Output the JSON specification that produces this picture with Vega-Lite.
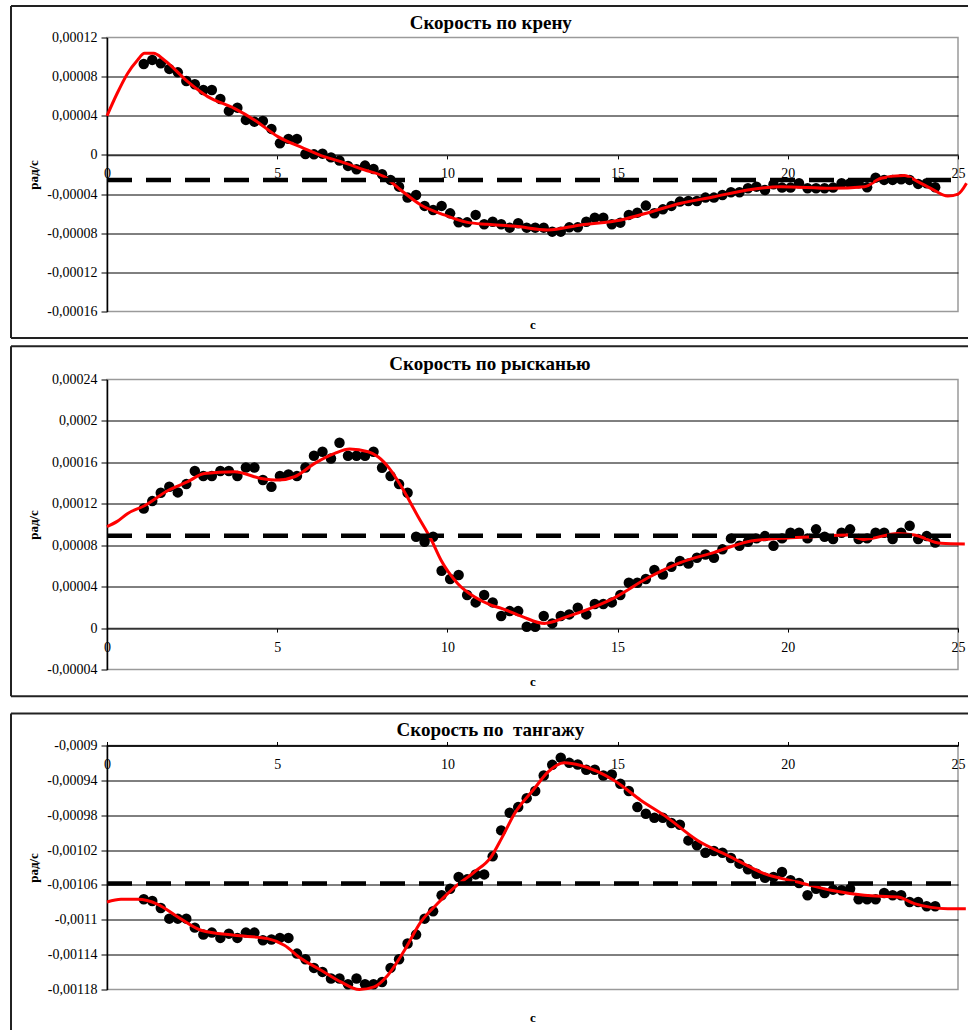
{
  "$schema": "https://vega.github.io/schema/vega-lite/v6.json",
  "autosize": {"type": "pad"},
  "padding": {"left": 8, "top": 2.5, "right": 0, "bottom": 0},
  "background": "white",
  "spacing": 1,
  "config": {
    "font": "Liberation Serif",
    "locale": {"number": {"decimal": ",", "thousands": " ", "grouping": [3], "currency": ["", ""], "minus": "-"}},
    "view": {"stroke": "#9a9a9a", "strokeWidth": 1.5},
    "title": {"font": "Liberation Serif", "fontSize": 19, "fontWeight": "bold", "color": "#000", "anchor": "middle", "frame": "bounds", "baseline": "alphabetic"},
    "axis": {"labelFont": "Liberation Serif", "labelFontSize": 14, "labelColor": "#000", "labelOverlap": false, "titleFont": "Liberation Serif", "titleFontSize": 13, "titleFontWeight": "bold", "titleColor": "#000", "tickColor": "#000", "domainColor": "#000", "domainWidth": 1.5, "gridColor": "#000", "gridWidth": 1}
  },
  "datasets": {
    "p1_pts": [
      {"t":1.08,"v":9.30e-5},{"t":1.33,"v":9.71e-5},{"t":1.58,"v":9.36e-5},{"t":1.83,"v":8.79e-5},{"t":2.08,"v":8.44e-5},{"t":2.33,"v":7.56e-5},{"t":2.58,"v":7.22e-5},{"t":2.83,"v":6.64e-5},{"t":3.08,"v":6.64e-5},{"t":3.33,"v":5.72e-5},
      {"t":3.58,"v":4.50e-5},{"t":3.83,"v":4.83e-5},{"t":4.08,"v":3.58e-5},{"t":4.33,"v":3.40e-5},{"t":4.58,"v":3.47e-5},{"t":4.83,"v":2.66e-5},{"t":5.08,"v":1.19e-5},{"t":5.33,"v":1.64e-5},{"t":5.58,"v":1.64e-5},{"t":5.83,"v":0.10e-5},
      {"t":6.08,"v":0.06e-5},{"t":6.33,"v":0.13e-5},{"t":6.58,"v":-0.25e-5},{"t":6.83,"v":-0.58e-5},{"t":7.08,"v":-1.12e-5},{"t":7.33,"v":-1.47e-5},{"t":7.58,"v":-1.09e-5},{"t":7.83,"v":-1.43e-5},{"t":8.08,"v":-1.98e-5},{"t":8.33,"v":-2.55e-5},
      {"t":8.58,"v":-3.24e-5},{"t":8.83,"v":-4.36e-5},{"t":9.08,"v":-4.09e-5},{"t":9.33,"v":-5.21e-5},{"t":9.58,"v":-5.62e-5},{"t":9.83,"v":-5.21e-5},{"t":10.08,"v":-5.97e-5},{"t":10.33,"v":-6.89e-5},{"t":10.58,"v":-6.89e-5},{"t":10.83,"v":-6.13e-5},
      {"t":11.08,"v":-7.09e-5},{"t":11.33,"v":-6.82e-5},{"t":11.58,"v":-7.09e-5},{"t":11.83,"v":-7.43e-5},{"t":12.08,"v":-6.99e-5},{"t":12.33,"v":-7.43e-5},{"t":12.58,"v":-7.43e-5},{"t":12.83,"v":-7.43e-5},{"t":13.08,"v":-7.84e-5},{"t":13.33,"v":-7.84e-5},
      {"t":13.58,"v":-7.40e-5},{"t":13.83,"v":-7.40e-5},{"t":14.08,"v":-6.82e-5},{"t":14.33,"v":-6.41e-5},{"t":14.58,"v":-6.41e-5},{"t":14.83,"v":-7.09e-5},{"t":15.08,"v":-6.92e-5},{"t":15.33,"v":-6.13e-5},{"t":15.58,"v":-5.90e-5},{"t":15.83,"v":-5.18e-5},
      {"t":16.08,"v":-5.96e-5},{"t":16.33,"v":-5.56e-5},{"t":16.58,"v":-5.21e-5},{"t":16.83,"v":-4.77e-5},{"t":17.08,"v":-4.70e-5},{"t":17.33,"v":-4.70e-5},{"t":17.58,"v":-4.36e-5},{"t":17.83,"v":-4.36e-5},{"t":18.08,"v":-4.09e-5},{"t":18.33,"v":-3.82e-5},
      {"t":18.58,"v":-3.82e-5},{"t":18.83,"v":-3.41e-5},{"t":19.08,"v":-3.24e-5},{"t":19.33,"v":-3.58e-5},{"t":19.58,"v":-3.00e-5},{"t":19.83,"v":-3.34e-5},{"t":20.08,"v":-3.34e-5},{"t":20.33,"v":-2.90e-5},{"t":20.58,"v":-3.41e-5},{"t":20.83,"v":-3.41e-5},
      {"t":21.08,"v":-3.41e-5},{"t":21.33,"v":-3.34e-5},{"t":21.58,"v":-2.90e-5},{"t":21.83,"v":-2.90e-5},{"t":22.08,"v":-2.90e-5},{"t":22.33,"v":-3.31e-5},{"t":22.58,"v":-2.32e-5},{"t":22.83,"v":-2.55e-5},{"t":23.08,"v":-2.55e-5},{"t":23.33,"v":-2.49e-5},
      {"t":23.58,"v":-2.55e-5},{"t":23.83,"v":-2.96e-5},{"t":24.08,"v":-2.90e-5},{"t":24.33,"v":-3.31e-5}
    ],
    "p1_fit": [
      {"t":0,"v":4.0e-5},{"t":0.3,"v":6.3e-5},{"t":0.6,"v":8.3e-5},{"t":0.9,"v":9.7e-5},{"t":1.1,"v":10.38e-5},{"t":1.37,"v":10.38e-5},{"t":1.68,"v":9.71e-5},{"t":2.37,"v":7.49e-5},{"t":2.96,"v":5.96e-5},{"t":3.74,"v":4.76e-5},
      {"t":4.33,"v":3.58e-5},{"t":5.02,"v":1.87e-5},{"t":5.78,"v":0.68e-5},{"t":6.29,"v":-0.07e-5},{"t":6.87,"v":-0.68e-5},{"t":7.56,"v":-1.53e-5},{"t":8.14,"v":-2.22e-5},{"t":8.63,"v":-3.58e-5},{"t":9.22,"v":-5.11e-5},{"t":9.91,"v":-6.13e-5},
      {"t":10.59,"v":-6.89e-5},{"t":11.18,"v":-7.09e-5},{"t":12.0,"v":-7.3e-5},{"t":12.95,"v":-7.67e-5},{"t":13.92,"v":-7.15e-5},{"t":15.1,"v":-6.64e-5},{"t":16.0,"v":-5.8e-5},{"t":16.86,"v":-4.94e-5},{"t":17.8,"v":-4.3e-5},{"t":18.82,"v":-3.58e-5},
      {"t":19.8,"v":-3.24e-5},{"t":21.27,"v":-3.41e-5},{"t":22.25,"v":-3.24e-5},{"t":22.74,"v":-2.39e-5},{"t":23.42,"v":-2.11e-5},{"t":23.82,"v":-2.73e-5},{"t":24.2,"v":-3.41e-5},{"t":24.7,"v":-4.2e-5},{"t":25.0,"v":-4.0e-5},{"t":25.25,"v":-2.9e-5}
    ],
    "p2_pts": [
      {"t":1.08,"v":11.55e-5},{"t":1.33,"v":12.26e-5},{"t":1.58,"v":13.07e-5},{"t":1.83,"v":13.65e-5},{"t":2.08,"v":13.10e-5},{"t":2.33,"v":13.90e-5},{"t":2.58,"v":15.16e-5},{"t":2.83,"v":14.68e-5},{"t":3.08,"v":14.68e-5},{"t":3.33,"v":15.16e-5},
      {"t":3.58,"v":15.16e-5},{"t":3.83,"v":14.68e-5},{"t":4.08,"v":15.51e-5},{"t":4.33,"v":15.51e-5},{"t":4.58,"v":14.29e-5},{"t":4.83,"v":13.65e-5},{"t":5.08,"v":14.68e-5},{"t":5.33,"v":14.84e-5},{"t":5.58,"v":14.68e-5},{"t":5.83,"v":15.51e-5},
      {"t":6.08,"v":16.64e-5},{"t":6.33,"v":17.03e-5},{"t":6.58,"v":16.38e-5},{"t":6.83,"v":17.89e-5},{"t":7.08,"v":16.64e-5},{"t":7.33,"v":16.64e-5},{"t":7.58,"v":16.64e-5},{"t":7.83,"v":17.03e-5},{"t":8.08,"v":15.48e-5},{"t":8.33,"v":14.68e-5},
      {"t":8.58,"v":13.90e-5},{"t":8.83,"v":13.07e-5},{"t":9.08,"v":8.82e-5},{"t":9.33,"v":8.34e-5},{"t":9.58,"v":8.82e-5},{"t":9.83,"v":5.54e-5},{"t":10.08,"v":4.73e-5},{"t":10.33,"v":5.12e-5},{"t":10.58,"v":3.19e-5},{"t":10.83,"v":2.48e-5},
      {"t":11.08,"v":3.19e-5},{"t":11.33,"v":2.48e-5},{"t":11.58,"v":1.16e-5},{"t":11.83,"v":1.64e-5},{"t":12.08,"v":1.64e-5},{"t":12.33,"v":0.13e-5},{"t":12.58,"v":0.13e-5},{"t":12.83,"v":1.16e-5},{"t":13.08,"v":0.45e-5},{"t":13.33,"v":1.16e-5},
      {"t":13.58,"v":1.32e-5},{"t":13.83,"v":1.96e-5},{"t":14.08,"v":1.32e-5},{"t":14.33,"v":2.32e-5},{"t":14.58,"v":2.32e-5},{"t":14.83,"v":2.48e-5},{"t":15.08,"v":3.19e-5},{"t":15.33,"v":4.38e-5},{"t":15.58,"v":4.38e-5},{"t":15.83,"v":4.73e-5},
      {"t":16.08,"v":5.60e-5},{"t":16.33,"v":5.18e-5},{"t":16.58,"v":5.92e-5},{"t":16.83,"v":6.47e-5},{"t":17.08,"v":6.24e-5},{"t":17.33,"v":6.79e-5},{"t":17.58,"v":7.11e-5},{"t":17.83,"v":6.79e-5},{"t":18.08,"v":7.60e-5},{"t":18.33,"v":8.66e-5},
      {"t":18.58,"v":7.95e-5},{"t":18.83,"v":8.34e-5},{"t":19.08,"v":8.66e-5},{"t":19.33,"v":8.88e-5},{"t":19.58,"v":7.95e-5},{"t":19.83,"v":8.66e-5},{"t":20.08,"v":9.20e-5},{"t":20.33,"v":9.20e-5},{"t":20.58,"v":8.66e-5},{"t":20.83,"v":9.53e-5},
      {"t":21.08,"v":8.82e-5},{"t":21.33,"v":8.59e-5},{"t":21.58,"v":9.20e-5},{"t":21.83,"v":9.53e-5},{"t":22.08,"v":8.59e-5},{"t":22.33,"v":8.66e-5},{"t":22.58,"v":9.20e-5},{"t":22.83,"v":9.20e-5},{"t":23.08,"v":8.59e-5},{"t":23.33,"v":9.20e-5},
      {"t":23.58,"v":9.88e-5},{"t":23.83,"v":8.59e-5},{"t":24.08,"v":8.88e-5},{"t":24.33,"v":8.27e-5}
    ],
    "p2_fit": [
      {"t":0,"v":9.8e-5},{"t":0.3,"v":10.3e-5},{"t":0.61,"v":11.07e-5},{"t":1.1,"v":11.81e-5},{"t":1.78,"v":13.26e-5},{"t":2.37,"v":14.13e-5},{"t":2.86,"v":14.93e-5},{"t":3.74,"v":15.09e-5},{"t":4.53,"v":14.45e-5},{"t":5.02,"v":14.29e-5},
      {"t":5.51,"v":14.61e-5},{"t":6.1,"v":15.9e-5},{"t":6.69,"v":16.87e-5},{"t":7.13,"v":17.28e-5},{"t":7.67,"v":17.03e-5},{"t":7.96,"v":16.54e-5},{"t":8.3,"v":15.4e-5},{"t":8.65,"v":13.65e-5},{"t":9.14,"v":10.75e-5},{"t":9.53,"v":8.5e-5},
      {"t":9.81,"v":6.57e-5},{"t":10.3,"v":4.31e-5},{"t":10.79,"v":3.02e-5},{"t":11.28,"v":2.22e-5},{"t":11.59,"v":1.9e-5},{"t":12.2,"v":1.1e-5},{"t":12.85,"v":0.45e-5},{"t":13.52,"v":1.1e-5},{"t":14.2,"v":1.9e-5},{"t":14.89,"v":2.9e-5},
      {"t":15.88,"v":4.83e-5},{"t":16.86,"v":6.34e-5},{"t":17.84,"v":7.31e-5},{"t":18.82,"v":8.34e-5},{"t":19.8,"v":8.66e-5},{"t":20.78,"v":8.82e-5},{"t":21.76,"v":8.98e-5},{"t":22.25,"v":8.56e-5},{"t":23.23,"v":9.14e-5},{"t":23.72,"v":8.98e-5},
      {"t":24.5,"v":8.18e-5},{"t":25.2,"v":8.11e-5}
    ],
    "p3_pts": [
      {"t":1.08,"v":-107.65e-5},{"t":1.33,"v":-107.84e-5},{"t":1.58,"v":-108.64e-5},{"t":1.83,"v":-109.87e-5},{"t":2.08,"v":-109.87e-5},{"t":2.33,"v":-109.87e-5},{"t":2.58,"v":-110.90e-5},{"t":2.83,"v":-111.70e-5},{"t":3.08,"v":-111.47e-5},{"t":3.33,"v":-112.08e-5},
      {"t":3.58,"v":-111.59e-5},{"t":3.83,"v":-112.08e-5},{"t":4.08,"v":-111.47e-5},{"t":4.33,"v":-111.47e-5},{"t":4.58,"v":-112.35e-5},{"t":4.83,"v":-112.27e-5},{"t":5.08,"v":-112.08e-5},{"t":5.33,"v":-112.08e-5},{"t":5.58,"v":-113.88e-5},{"t":5.83,"v":-114.53e-5},
      {"t":6.08,"v":-115.52e-5},{"t":6.33,"v":-115.98e-5},{"t":6.58,"v":-116.74e-5},{"t":6.83,"v":-116.74e-5},{"t":7.08,"v":-117.39e-5},{"t":7.33,"v":-116.74e-5},{"t":7.58,"v":-117.39e-5},{"t":7.83,"v":-117.39e-5},{"t":8.08,"v":-117.13e-5},{"t":8.33,"v":-115.52e-5},
      {"t":8.58,"v":-114.53e-5},{"t":8.83,"v":-112.73e-5},{"t":9.08,"v":-111.70e-5},{"t":9.33,"v":-109.87e-5},{"t":9.58,"v":-109.03e-5},{"t":9.83,"v":-107.19e-5},{"t":10.08,"v":-106.43e-5},{"t":10.33,"v":-105.09e-5},{"t":10.58,"v":-105.36e-5},{"t":10.83,"v":-104.79e-5},
      {"t":11.08,"v":-104.79e-5},{"t":11.33,"v":-102.72e-5},{"t":11.58,"v":-99.74e-5},{"t":11.83,"v":-97.72e-5},{"t":12.08,"v":-97.07e-5},{"t":12.33,"v":-96.04e-5},{"t":12.58,"v":-95.23e-5},{"t":12.83,"v":-93.44e-5},{"t":13.08,"v":-92.22e-5},{"t":13.33,"v":-91.41e-5},
      {"t":13.58,"v":-91.99e-5},{"t":13.83,"v":-92.18e-5},{"t":14.08,"v":-92.79e-5},{"t":14.33,"v":-92.79e-5},{"t":14.58,"v":-93.44e-5},{"t":14.83,"v":-93.32e-5},{"t":15.08,"v":-94.39e-5},{"t":15.33,"v":-95.23e-5},{"t":15.58,"v":-97.07e-5},{"t":15.83,"v":-97.83e-5},
      {"t":16.08,"v":-98.29e-5},{"t":16.33,"v":-98.29e-5},{"t":16.58,"v":-98.90e-5},{"t":16.83,"v":-99.09e-5},{"t":17.08,"v":-100.89e-5},{"t":17.33,"v":-101.46e-5},{"t":17.58,"v":-102.30e-5},{"t":17.83,"v":-102.11e-5},{"t":18.08,"v":-102.30e-5},{"t":18.33,"v":-102.91e-5},
      {"t":18.58,"v":-103.56e-5},{"t":18.83,"v":-104.21e-5},{"t":19.08,"v":-104.71e-5},{"t":19.33,"v":-105.17e-5},{"t":19.58,"v":-105.09e-5},{"t":19.83,"v":-104.52e-5},{"t":20.08,"v":-105.47e-5},{"t":20.33,"v":-105.78e-5},{"t":20.58,"v":-107.19e-5},{"t":20.83,"v":-106.43e-5},
      {"t":21.08,"v":-106.92e-5},{"t":21.33,"v":-106.54e-5},{"t":21.58,"v":-106.62e-5},{"t":21.83,"v":-106.43e-5},{"t":22.08,"v":-107.65e-5},{"t":22.33,"v":-107.65e-5},{"t":22.58,"v":-107.65e-5},{"t":22.83,"v":-106.92e-5},{"t":23.08,"v":-107.19e-5},{"t":23.33,"v":-107.19e-5},
      {"t":23.58,"v":-107.96e-5},{"t":23.83,"v":-107.96e-5},{"t":24.08,"v":-108.45e-5},{"t":24.33,"v":-108.45e-5}
    ],
    "p3_fit": [
      {"t":0,"v":-107.96e-5},{"t":0.41,"v":-107.65e-5},{"t":0.9,"v":-107.65e-5},{"t":1.49,"v":-108.22e-5},{"t":2.08,"v":-109.67e-5},{"t":2.76,"v":-111.2e-5},{"t":3.74,"v":-111.78e-5},{"t":4.72,"v":-112.16e-5},{"t":5.21,"v":-112.92e-5},{"t":5.7,"v":-114.45e-5},
      {"t":6.29,"v":-115.79e-5},{"t":6.87,"v":-117.13e-5},{"t":7.41,"v":-118.0e-5},{"t":7.85,"v":-117.7e-5},{"t":8.25,"v":-116.36e-5},{"t":8.74,"v":-113.5e-5},{"t":9.22,"v":-110.25e-5},{"t":9.71,"v":-108.14e-5},{"t":10.2,"v":-106.31e-5},{"t":10.79,"v":-104.52e-5},
      {"t":11.28,"v":-102.8e-5},{"t":11.6,"v":-100.6e-5},{"t":11.97,"v":-97.83e-5},{"t":12.55,"v":-94.97e-5},{"t":12.95,"v":-93.06e-5},{"t":13.43,"v":-91.99e-5},{"t":13.92,"v":-92.29e-5},{"t":14.9,"v":-94.01e-5},{"t":15.69,"v":-96.3e-5},{"t":16.37,"v":-98.02e-5},
      {"t":17.35,"v":-100.89e-5},{"t":18.33,"v":-102.8e-5},{"t":19.31,"v":-104.71e-5},{"t":20.29,"v":-105.67e-5},{"t":21.27,"v":-106.62e-5},{"t":22.25,"v":-107.19e-5},{"t":23.23,"v":-107.39e-5},{"t":23.72,"v":-108.14e-5},{"t":24.7,"v":-108.72e-5},{"t":25.23,"v":-108.72e-5}
    ]
  },
  "vconcat": [
    {
      "width": 851, "height": 274,
      "title": {"text": "Скорость по крену", "offset": -29.5},
      "layer": [
        {"data": {"name": "p1_pts"}, "mark": {"type": "circle", "size": 110, "color": "#000", "opacity": 1},
         "encoding": {
           "x": {"field": "t", "type": "quantitative", "scale": {"domain": [0, 25], "nice": false, "zero": false},
                 "axis": {"values": [0, 5, 10, 15, 20, 25], "tickCount": 30, "format": "d", "orient": "bottom", "offset": -156.57, "grid": false, "labelFlush": false, "labelBaseline": "middle", "labelPadding": 15, "tickSize": 4, "domainColor": "#333",
                          "title": "с", "titleX": 425.5, "titleY": 169.3, "titleAngle": 0, "titleAlign": "center", "titleBaseline": "middle"}},
           "y": {"field": "v", "type": "quantitative", "scale": {"domain": [-0.00016, 0.00012], "nice": false, "zero": false},
                 "axis": {"values": [-0.00016, -0.00012, -0.00008, -0.00004, 0, 0.00004, 0.00008, 0.00012], "tickCount": 30, "format": ".5~f", "grid": true, "tickSize": 6, "labelPadding": 4,
                          "gridOpacity": {"condition": {"test": "datum.value > 0.000119 || datum.value < -0.000159", "value": 0}, "value": 1},
                          "title": "рад/с", "titleX": -74, "titleY": 137, "titleAngle": 270, "titleAlign": "center", "titleBaseline": "middle"}}}},
        {"data": {"values": [{}]}, "mark": {"type": "rect", "opacity": 0},
         "encoding": {
           "x": {"datum": -2.879, "type": "quantitative", "scale": {"domain": [0, 25], "nice": false, "zero": false}},
           "x2": {"datum": 25.353},
           "y": {"datum": 0.000154234, "type": "quantitative", "scale": {"domain": [-0.00016, 0.00012], "nice": false, "zero": false}},
           "y2": {"datum": -0.000189124}}},
        {"data": {"values": [{}]}, "mark": {"type": "rule", "color": "#222", "strokeWidth": 2},
         "encoding": {
           "x": {"datum": -2.82, "type": "quantitative", "scale": {"domain": [0, 25], "nice": false, "zero": false}},
           "x2": {"datum": 25.294},
           "y": {"datum": 0.00015219, "type": "quantitative", "scale": {"domain": [-0.00016, 0.00012], "nice": false, "zero": false}}}},
        {"data": {"values": [{}]}, "mark": {"type": "rule", "color": "#222", "strokeWidth": 2},
         "encoding": {
           "x": {"datum": -2.82, "type": "quantitative", "scale": {"domain": [0, 25], "nice": false, "zero": false}},
           "x2": {"datum": 25.294},
           "y": {"datum": -0.00018708, "type": "quantitative", "scale": {"domain": [-0.00016, 0.00012], "nice": false, "zero": false}}}},
        {"data": {"values": [{}]}, "mark": {"type": "rule", "color": "#222", "strokeWidth": 2},
         "encoding": {
           "x": {"datum": -2.82, "type": "quantitative", "scale": {"domain": [0, 25], "nice": false, "zero": false}},
           "y": {"datum": 0.00015219, "type": "quantitative", "scale": {"domain": [-0.00016, 0.00012], "nice": false, "zero": false}},
           "y2": {"datum": -0.00018708}}},
        {"data": {"name": "p1_fit"}, "mark": {"type": "line", "color": "#ff0000", "strokeWidth": 3, "interpolate": "monotone"},
         "encoding": {
           "x": {"field": "t", "type": "quantitative", "scale": {"domain": [0, 25], "nice": false, "zero": false}},
           "y": {"field": "v", "type": "quantitative", "scale": {"domain": [-0.00016, 0.00012], "nice": false, "zero": false}}}},
        {"data": {"values": [{}]}, "mark": {"type": "rule", "color": "#000", "strokeWidth": 4.5, "strokeDash": [25, 14]},
         "encoding": {
           "x": {"datum": 0, "type": "quantitative", "scale": {"domain": [0, 25], "nice": false, "zero": false}},
           "x2": {"datum": 25},
           "y": {"datum": -0.0000255, "type": "quantitative", "scale": {"domain": [-0.00016, 0.00012], "nice": false, "zero": false}}}}
      ]
    },
    {
      "width": 851, "height": 290,
      "title": {"text": "Скорость по рысканью", "offset": -29.3},
      "layer": [
        {"data": {"name": "p2_pts"}, "mark": {"type": "circle", "size": 110, "color": "#000", "opacity": 1},
         "encoding": {
           "x": {"field": "t", "type": "quantitative", "scale": {"domain": [0, 25], "nice": false, "zero": false},
                 "axis": {"values": [0, 5, 10, 15, 20, 25], "tickCount": 30, "format": "d", "orient": "bottom", "offset": -41.43, "grid": false, "labelFlush": false, "labelBaseline": "middle", "labelPadding": 15, "tickSize": 4, "domainColor": "#333",
                          "title": "с", "titleX": 425.5, "titleY": 53.8, "titleAngle": 0, "titleAlign": "center", "titleBaseline": "middle"}},
           "y": {"field": "v", "type": "quantitative", "scale": {"domain": [-0.00004, 0.00024], "nice": false, "zero": false},
                 "axis": {"values": [-0.00004, 0, 0.00004, 0.00008, 0.00012, 0.00016, 0.0002, 0.00024], "tickCount": 30, "format": ".5~f", "grid": true, "tickSize": 6, "labelPadding": 4,
                          "gridOpacity": {"condition": {"test": "datum.value > 0.000239 || datum.value < -0.000039", "value": 0}, "value": 1},
                          "title": "рад/с", "titleX": -74, "titleY": 145, "titleAngle": 270, "titleAlign": "center", "titleBaseline": "middle"}}}},
        {"data": {"values": [{}]}, "mark": {"type": "rect", "opacity": 0},
         "encoding": {
           "x": {"datum": -2.879, "type": "quantitative", "scale": {"domain": [0, 25], "nice": false, "zero": false}},
           "x2": {"datum": 25.353},
           "y": {"datum": 0.00027408, "type": "quantitative", "scale": {"domain": [-0.00004, 0.00024], "nice": false, "zero": false}},
           "y2": {"datum": -0.00006771}}},
        {"data": {"values": [{}]}, "mark": {"type": "rule", "color": "#222", "strokeWidth": 2},
         "encoding": {
           "x": {"datum": -2.82, "type": "quantitative", "scale": {"domain": [0, 25], "nice": false, "zero": false}},
           "x2": {"datum": 25.294},
           "y": {"datum": 0.00027215, "type": "quantitative", "scale": {"domain": [-0.00004, 0.00024], "nice": false, "zero": false}}}},
        {"data": {"values": [{}]}, "mark": {"type": "rule", "color": "#222", "strokeWidth": 2},
         "encoding": {
           "x": {"datum": -2.82, "type": "quantitative", "scale": {"domain": [0, 25], "nice": false, "zero": false}},
           "x2": {"datum": 25.294},
           "y": {"datum": -0.00006578, "type": "quantitative", "scale": {"domain": [-0.00004, 0.00024], "nice": false, "zero": false}}}},
        {"data": {"values": [{}]}, "mark": {"type": "rule", "color": "#222", "strokeWidth": 2},
         "encoding": {
           "x": {"datum": -2.82, "type": "quantitative", "scale": {"domain": [0, 25], "nice": false, "zero": false}},
           "y": {"datum": 0.00027215, "type": "quantitative", "scale": {"domain": [-0.00004, 0.00024], "nice": false, "zero": false}},
           "y2": {"datum": -0.00006578}}},
        {"data": {"name": "p2_fit"}, "mark": {"type": "line", "color": "#ff0000", "strokeWidth": 3, "interpolate": "monotone"},
         "encoding": {
           "x": {"field": "t", "type": "quantitative", "scale": {"domain": [0, 25], "nice": false, "zero": false}},
           "y": {"field": "v", "type": "quantitative", "scale": {"domain": [-0.00004, 0.00024], "nice": false, "zero": false}}}},
        {"data": {"values": [{}]}, "mark": {"type": "rule", "color": "#000", "strokeWidth": 4.5, "strokeDash": [25, 14]},
         "encoding": {
           "x": {"datum": 0, "type": "quantitative", "scale": {"domain": [0, 25], "nice": false, "zero": false}},
           "x2": {"datum": 25},
           "y": {"datum": 0.0000891, "type": "quantitative", "scale": {"domain": [-0.00004, 0.00024], "nice": false, "zero": false}}}}
      ]
    },
    {
      "width": 851, "height": 244,
      "title": {"text": "Скорость по \u00a0тангажу", "offset": -38.2},
      "layer": [
        {"data": {"name": "p3_pts"}, "mark": {"type": "circle", "size": 110, "color": "#000", "opacity": 1},
         "encoding": {
           "x": {"field": "t", "type": "quantitative", "scale": {"domain": [0, 25], "nice": false, "zero": false},
                 "axis": {"values": [0, 5, 10, 15, 20, 25], "tickCount": 30, "format": "d", "orient": "top", "offset": 0, "grid": false, "labelFlush": false, "labelBaseline": "middle", "labelPadding": -23.3, "tickSize": 4,
                          "title": "с", "titleX": 425.5, "titleY": 271.7, "titleAngle": 0, "titleAlign": "center", "titleBaseline": "middle"}},
           "y": {"field": "v", "type": "quantitative", "scale": {"domain": [-0.00118, -0.0009], "nice": false, "zero": false},
                 "axis": {"values": [-0.00118, -0.00114, -0.0011, -0.00106, -0.00102, -0.00098, -0.00094, -0.0009], "tickCount": 30, "format": ".5~f", "grid": true, "tickSize": 6, "labelPadding": 4,
                          "gridOpacity": {"condition": {"test": "datum.value < -0.001179", "value": 0}, "value": 1},
                          "title": "рад/с", "titleX": -74, "titleY": 122, "titleAngle": 270, "titleAlign": "center", "titleBaseline": "middle"}}}},
        {"data": {"values": [{}]}, "mark": {"type": "rect", "opacity": 0},
         "encoding": {
           "x": {"datum": -2.879, "type": "quantitative", "scale": {"domain": [0, 25], "nice": false, "zero": false}},
           "x2": {"datum": 25.353},
           "y": {"datum": -0.00085008, "type": "quantitative", "scale": {"domain": [-0.00118, -0.0009], "nice": false, "zero": false}},
           "y2": {"datum": -0.00122935}}},
        {"data": {"values": [{}]}, "mark": {"type": "rule", "color": "#222", "strokeWidth": 2},
         "encoding": {
           "x": {"datum": -2.82, "type": "quantitative", "scale": {"domain": [0, 25], "nice": false, "zero": false}},
           "x2": {"datum": 25.294},
           "y": {"datum": -0.00086328, "type": "quantitative", "scale": {"domain": [-0.00118, -0.0009], "nice": false, "zero": false}}}},
        {"data": {"values": [{}]}, "mark": {"type": "rule", "color": "#222", "strokeWidth": 2},
         "encoding": {
           "x": {"datum": -2.82, "type": "quantitative", "scale": {"domain": [0, 25], "nice": false, "zero": false}},
           "y": {"datum": -0.00086328, "type": "quantitative", "scale": {"domain": [-0.00118, -0.0009], "nice": false, "zero": false}},
           "y2": {"datum": -0.00122649}}},
        {"data": {"name": "p3_fit"}, "mark": {"type": "line", "color": "#ff0000", "strokeWidth": 3, "interpolate": "monotone"},
         "encoding": {
           "x": {"field": "t", "type": "quantitative", "scale": {"domain": [0, 25], "nice": false, "zero": false}},
           "y": {"field": "v", "type": "quantitative", "scale": {"domain": [-0.00118, -0.0009], "nice": false, "zero": false}}}},
        {"data": {"values": [{}]}, "mark": {"type": "rule", "color": "#000", "strokeWidth": 4.5, "strokeDash": [25, 14]},
         "encoding": {
           "x": {"datum": 0, "type": "quantitative", "scale": {"domain": [0, 25], "nice": false, "zero": false}},
           "x2": {"datum": 25},
           "y": {"datum": -0.0010585, "type": "quantitative", "scale": {"domain": [-0.00118, -0.0009], "nice": false, "zero": false}}}}
      ]
    }
  ]
}
